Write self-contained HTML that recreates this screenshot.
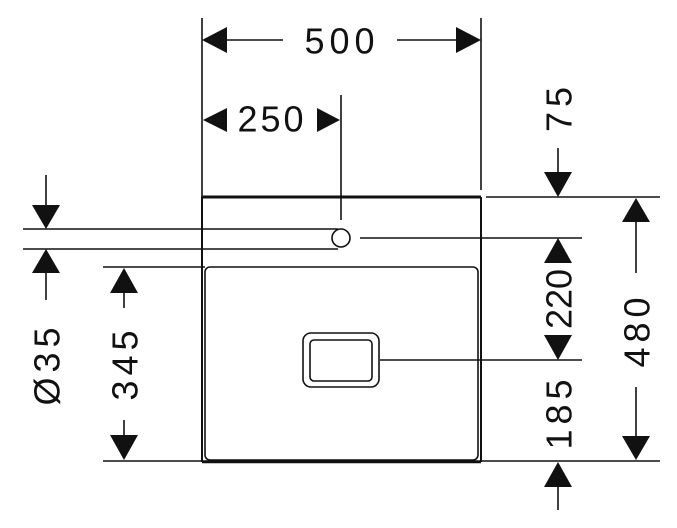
<!DOCTYPE html>
<html><head><style>
html,body{margin:0;padding:0;background:#fff;}
svg{display:block;}
text{font-family:"Liberation Sans",sans-serif;font-size:36px;fill:#111;text-anchor:middle;dominant-baseline:central;letter-spacing:5px;}
</style></head><body>
<svg width="677" height="528" viewBox="0 0 677 528" xmlns="http://www.w3.org/2000/svg">
<g stroke="#111" stroke-width="1.6" fill="none">
<line x1="202" y1="197" x2="481" y2="197" stroke-width="3"/>
<line x1="202" y1="197" x2="202" y2="462" stroke-width="2"/>
<line x1="481" y1="197" x2="481" y2="462" stroke-width="2"/>
<line x1="202" y1="462" x2="481" y2="462" stroke-width="2.4"/>
<rect x="205" y="267" width="273" height="193" rx="5"/>
<line x1="202" y1="18" x2="202" y2="197"/>
<line x1="481" y1="18" x2="481" y2="190"/>
<line x1="341" y1="95" x2="341" y2="220"/>
<line x1="23" y1="229" x2="338" y2="229"/>
<line x1="23" y1="249" x2="338" y2="249"/>
<circle cx="341" cy="238" r="9"/>
<line x1="360" y1="238" x2="582" y2="238"/>
<line x1="103" y1="267" x2="205" y2="267"/>
<line x1="103" y1="461" x2="660" y2="461"/>
<line x1="486" y1="197" x2="660" y2="197"/>
<rect x="303" y="333" width="76" height="54" rx="8"/>
<rect x="310" y="340" width="62" height="41" rx="4"/>
<line x1="380" y1="360" x2="582" y2="360"/>
<line x1="222" y1="40" x2="283" y2="40"/>
<line x1="397" y1="40" x2="458" y2="40"/>
<line x1="558" y1="148" x2="558" y2="175"/>
<line x1="636" y1="220" x2="636" y2="273"/>
<line x1="636" y1="387" x2="636" y2="440"/>
<line x1="558" y1="485" x2="558" y2="510"/>
<line x1="46" y1="175" x2="46" y2="210"/>
<line x1="46" y1="268" x2="46" y2="300"/>
<line x1="124" y1="290" x2="124" y2="308"/>
<line x1="124" y1="420" x2="124" y2="440"/>
</g>
<g fill="#111">
<polygon points="202,40 227,27 227,53"/>
<polygon points="481,40 456,27 456,53"/>
<polygon points="203,120 227,108 227,132"/>
<polygon points="340,120 317,108 317,132"/>
<polygon points="558,197 544,172 572,172"/>
<polygon points="558,238 544,263 572,263"/>
<polygon points="558,360 544,335 572,335"/>
<polygon points="558,462 544,487 572,487"/>
<polygon points="636,198 622,222 650,222"/>
<polygon points="636,460 622,436 650,436"/>
<polygon points="46,229 32,205 60,205"/>
<polygon points="46,249 32,273 60,273"/>
<polygon points="124,268 110,293 138,293"/>
<polygon points="124,460 110,435 138,435"/>
</g>
<text x="342" y="41">500</text>
<text x="272" y="119" style="letter-spacing:3px">250</text>
<text transform="translate(559,107) rotate(-90)">75</text>
<text transform="translate(559,299) rotate(-90)" style="letter-spacing:0px">220</text>
<text transform="translate(559,412) rotate(-90)">185</text>
<text transform="translate(637,330) rotate(-90)">480</text>
<text transform="translate(47,364) rotate(-90)">Ø35</text>
<text transform="translate(125,363) rotate(-90)">345</text>
</svg>
</body></html>
